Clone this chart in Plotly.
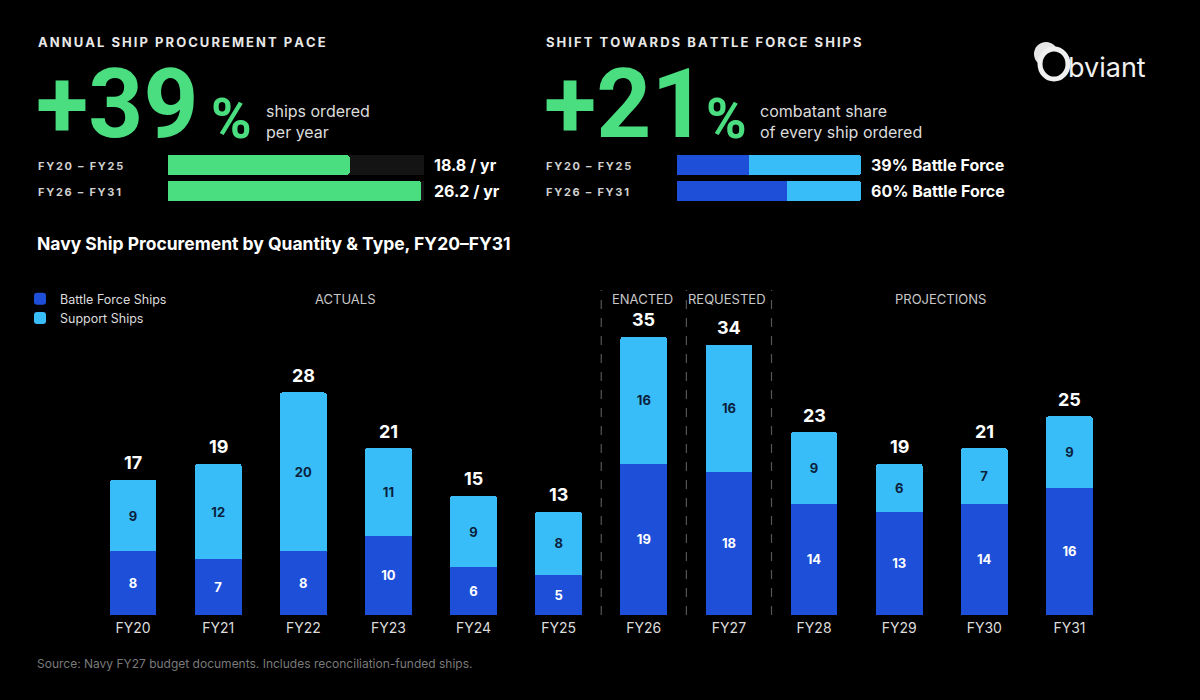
import plotly.graph_objects as go

# main chart data
years = ["FY20", "FY21", "FY22", "FY23", "FY24", "FY25",
         "FY26", "FY27", "FY28", "FY29", "FY30", "FY31"]
battle_force = [8, 7, 8, 10, 6, 5, 19, 18, 14, 13, 14, 16]
support = [9, 12, 20, 11, 9, 8, 16, 16, 9, 6, 7, 9]
totals = [17, 19, 28, 21, 15, 13, 35, 34, 23, 19, 21, 25]

# summary panels
periods = ["FY20 – FY25", "FY26 – FY31"]
ships_per_year = [18.8, 26.2]
pace_labels = ["18.8 / yr", "26.2 / yr"]
battle_share = [39, 60]
support_share = [61, 40]
share_labels = ["39% Battle Force", "60% Battle Force"]

DARK_BLUE = "#1e4fd8"
LIGHT_BLUE = "#38bdf8"
GREEN = "#4ade80"
FONT = "Inter"
BIG = "Roboto"
W, H = 1200, 700


def px(x):
    return x / W


def py(y):
    return 1 - y / H


def spaced(s):
    return "\u2009".join(s)


fig = go.Figure()

fig.add_trace(go.Bar(
    x=years, y=battle_force, name="Battle Force Ships",
    marker=dict(color=DARK_BLUE, line=dict(width=0)),
    text=battle_force, texttemplate="<b>%{text}</b>",
    textposition="inside", insidetextanchor="middle", textangle=0,
    textfont=dict(color="#ffffff", size=13, family=FONT),
    width=0.55,
))
fig.add_trace(go.Bar(
    x=years, y=support, name="Support Ships",
    marker=dict(color=LIGHT_BLUE, line=dict(width=0)),
    text=support, texttemplate="<b>%{text}</b>",
    textposition="inside", insidetextanchor="middle", textangle=0,
    textfont=dict(color="#0b1f3d", size=13, family=FONT),
    width=0.55,
))

# left mini chart: ships per year
fig.add_trace(go.Bar(
    x=ships_per_year, y=periods, orientation="h", xaxis="x2", yaxis="y2",
    marker=dict(color=GREEN, line=dict(width=0)), width=0.77,
    showlegend=False,
))

# right mini chart: battle force share
fig.add_trace(go.Bar(
    x=battle_share, y=periods, orientation="h", xaxis="x3", yaxis="y3",
    marker=dict(color=DARK_BLUE, line=dict(width=0)), width=0.77,
    showlegend=False,
))
fig.add_trace(go.Bar(
    x=support_share, y=periods, orientation="h", xaxis="x3", yaxis="y3",
    marker=dict(color=LIGHT_BLUE, line=dict(width=0)), width=0.77,
    showlegend=False,
))

ann = []
# totals above bars
for yr, t in zip(years, totals):
    ann.append(dict(x=yr, y=t, xref="x", yref="y", text=f"<b>{t}</b>",
                    showarrow=False, yshift=17, yanchor="middle",
                    font=dict(size=18, color="#ffffff", family=FONT)))

# group labels
for label, xc in [("ACTUALS", 345), ("ENACTED", 642), ("REQUESTED", 727), ("PROJECTIONS", 940)]:
    ann.append(dict(x=px(xc), y=py(299), xref="paper", yref="paper", text=label,
                    showarrow=False, xanchor="center", yanchor="middle",
                    font=dict(size=13, color="#c8c8c8", family=FONT)))

# mini chart value labels
for lab, yy in zip(pace_labels, [165, 191]):
    ann.append(dict(x=px(432), y=py(yy), xref="paper", yref="paper", text=f"<b>{lab}</b>",
                    showarrow=False, xanchor="left", yanchor="middle",
                    font=dict(size=16, color="#ffffff", family=FONT)))
for lab, yy in zip(share_labels, [165, 191]):
    ann.append(dict(x=px(869), y=py(yy), xref="paper", yref="paper", text=f"<b>{lab}</b>",
                    showarrow=False, xanchor="left", yanchor="middle",
                    font=dict(size=16, color="#ffffff", family=FONT)))

# period row labels
for x0 in [36, 544]:
    for lab, yy in zip(periods, [166, 192]):
        ann.append(dict(x=px(x0), y=py(yy), xref="paper", yref="paper",
                        text=f"<b>{spaced(lab)}</b>", showarrow=False,
                        xanchor="left", yanchor="middle",
                        font=dict(size=11, color="#d0d0d0", family=FONT)))

# section headers
ann.append(dict(x=px(36), y=py(42), xref="paper", yref="paper",
                text=f"<b>{spaced('ANNUAL SHIP PROCUREMENT PACE')}</b>", showarrow=False,
                xanchor="left", yanchor="middle",
                font=dict(size=13, color="#e8e8e8", family=FONT)))
ann.append(dict(x=px(544), y=py(42), xref="paper", yref="paper",
                text=f"<b>{spaced('SHIFT TOWARDS BATTLE FORCE SHIPS')}</b>", showarrow=False,
                xanchor="left", yanchor="middle",
                font=dict(size=13, color="#e8e8e8", family=FONT)))

# big numbers
ann.append(dict(x=px(34), y=py(104), xref="paper", yref="paper", text="<b>+39</b>",
                showarrow=False, xanchor="left", yanchor="middle",
                font=dict(size=96, color=GREEN, family=BIG)))
ann.append(dict(x=px(209), y=py(119), xref="paper", yref="paper", text="<b>%</b>",
                showarrow=False, xanchor="left", yanchor="middle",
                font=dict(size=55, color=GREEN, family=BIG)))
ann.append(dict(x=px(542), y=py(104), xref="paper", yref="paper", text="<b>+21</b>",
                showarrow=False, xanchor="left", yanchor="middle",
                font=dict(size=96, color=GREEN, family=BIG)))
ann.append(dict(x=px(704), y=py(119), xref="paper", yref="paper", text="<b>%</b>",
                showarrow=False, xanchor="left", yanchor="middle",
                font=dict(size=55, color=GREEN, family=BIG)))
ann.append(dict(x=px(264), y=py(122), xref="paper", yref="paper",
                text="ships ordered<br>per year", showarrow=False, align="left",
                xanchor="left", yanchor="middle",
                font=dict(size=16, color="#dcdcdc", family=FONT)))
ann.append(dict(x=px(758), y=py(122), xref="paper", yref="paper",
                text="combatant share<br>of every ship ordered", showarrow=False, align="left",
                xanchor="left", yanchor="middle",
                font=dict(size=16, color="#dcdcdc", family=FONT)))

# chart title and footer
ann.append(dict(x=px(35), y=py(243), xref="paper", yref="paper",
                text="<b>Navy Ship Procurement by Quantity &amp; Type, FY20–FY31</b>",
                showarrow=False, xanchor="left", yanchor="middle",
                font=dict(size=17.5, color="#ffffff", family=FONT)))
ann.append(dict(x=px(35), y=py(663), xref="paper", yref="paper",
                text="Source: Navy FY27 budget documents. Includes reconciliation-funded ships.",
                showarrow=False, xanchor="left", yanchor="middle",
                font=dict(size=12, color="#7a7a7a", family=FONT)))

# logo
ann.append(dict(x=px(1066), y=py(67), xref="paper", yref="paper", text="bviant",
                showarrow=False, xanchor="left", yanchor="middle",
                font=dict(size=27, color="#f0f0f0", family=FONT)))

shapes = []
# empty track behind the ships-per-year bars
for i in range(len(periods)):
    shapes.append(dict(type="rect", xref="paper", yref="y2", layer="below",
                       x0=px(168), x1=px(424), y0=i - 0.385, y1=i + 0.385,
                       fillcolor="#141414", line=dict(width=0)))
for xd in [5.5, 6.5, 7.5]:
    shapes.append(dict(type="line", xref="x", yref="paper", x0=xd, x1=xd,
                       y0=py(615), y1=py(290),
                       line=dict(color="#555555", width=1.2, dash="dash")))
shapes.append(dict(type="circle", xref="paper", yref="paper",
                   x0=px(1034), x1=px(1058), y0=py(66), y1=py(42),
                   fillcolor="#e6e6e6", line=dict(width=0)))
shapes.append(dict(type="circle", xref="paper", yref="paper",
                   x0=px(1040), x1=px(1068), y0=py(79), y1=py(49),
                   fillcolor="#000000", line=dict(color="#f0f0f0", width=5)))

fig.update_layout(
    width=W, height=H,
    paper_bgcolor="#000000", plot_bgcolor="rgba(0,0,0,0)",
    margin=dict(l=0, r=0, t=0, b=0),
    barmode="stack", barcornerradius=3,
    font=dict(family=FONT, color="#ffffff"),
    showlegend=True,
    legend=dict(x=px(20), y=py(284), xanchor="left", yanchor="top",
                bgcolor="rgba(0,0,0,0)", font=dict(size=12.5, color="#dcdcdc", family=FONT),
                itemwidth=30, tracegroupgap=2, traceorder="normal"),
    xaxis=dict(domain=[px(90.5), px(1112)], range=[-0.5, 11.5], showgrid=False,
               zeroline=False, showline=False, ticks="", ticklabelstandoff=3,
               tickfont=dict(size=14, color="#dcdcdc", family=FONT)),
    yaxis=dict(domain=[py(615), py(297)], range=[0, 40], visible=False),
    xaxis2=dict(domain=[px(168), px(424)], range=[0, 26.5], visible=False, anchor="y2"),
    yaxis2=dict(domain=[py(204), py(152)], range=[1.5, -0.5], visible=False, anchor="x2"),
    xaxis3=dict(domain=[px(677), px(861)], range=[0, 100], visible=False, anchor="y3"),
    yaxis3=dict(domain=[py(204), py(152)], range=[1.5, -0.5], visible=False, anchor="x3"),
    annotations=ann, shapes=shapes,
)

fig.write_html("out.html", config={"displayModeBar": False},
               post_script="document.body.style.margin='0';document.body.style.background='#000';")
